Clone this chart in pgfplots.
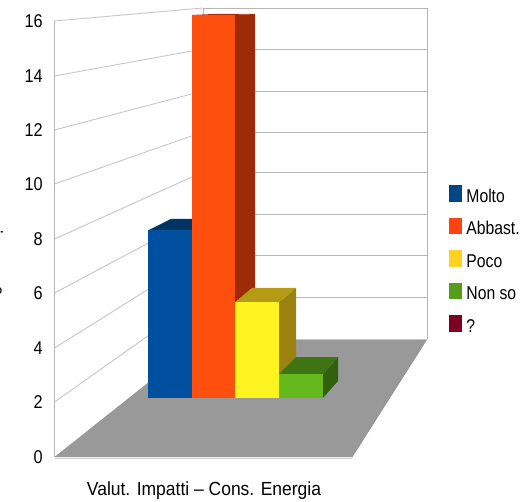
\documentclass[border=0pt]{standalone}
\usepackage{fontspec}
\setmainfont[FakeStretch=0.88]{Liberation Sans}
\newfontfamily\titlefont[FakeStretch=0.92]{Liberation Sans}
\newfontfamily\legendfont[FakeStretch=0.85]{Liberation Sans}
\usepackage{pgfplots}
\pgfplotsset{compat=1.18}
\definecolor{wallgrid}{HTML}{B6B6B6}
\definecolor{leftgrid}{HTML}{C6C6C6}
\definecolor{floorc}{HTML}{999999}
\definecolor{bluef}{HTML}{00509F}
\definecolor{bluet}{HTML}{003462}
\definecolor{orangef}{HTML}{FF4F0E}
\definecolor{oranget}{HTML}{A82C08}
\definecolor{oranges}{HTML}{9E2A08}
\definecolor{yellowf}{HTML}{FFF420}
\definecolor{yellowt}{HTML}{B59A14}
\definecolor{yellows}{HTML}{9C8210}
\definecolor{greenf}{HTML}{66B81F}
\definecolor{greent}{HTML}{3F7412}
\definecolor{greens}{HTML}{31600F}
\definecolor{leg1}{HTML}{004586}
\definecolor{leg2}{HTML}{FF420E}
\definecolor{leg3}{HTML}{FFD320}
\definecolor{leg4}{HTML}{579D1C}
\definecolor{leg5}{HTML}{7E0021}
\begin{document}
\fontsize{18.5}{20}\selectfont
\begin{tikzpicture}
\path[use as bounding box] (0pt,0pt) rectangle (521pt,502pt);
% walls and floor, in picture pixels
\begin{axis}[
  scale only axis, width=521pt, height=502pt,
  at={(0pt,0pt)}, anchor=south west,
  xmin=0, xmax=521, ymin=0, ymax=502, y dir=reverse,
  axis x line=none, axis y line=left,
  y axis line style={draw=none},
  major tick length=0pt,
  ytick={457,402,348,293,239,184,130,76,21},
  yticklabels={0,2,4,6,8,10,12,14,16},
  yticklabel style={anchor=east, xshift=43pt, inner sep=0pt},
  tick label style={font=\fontsize{18.5}{20}\selectfont},
  /pgf/number format/assume math mode=true,
  clip=false,
]
\addplot[fill=floorc, draw=none] coordinates {(54.5,457)(352,457)(427,339)(203,339)} -- cycle;
\addplot[color=gray!85, line width=.8pt] coordinates {(352,457)(427,339)};
\addplot[color=wallgrid!70, line width=1pt] coordinates {(55,458)(352,458)};
\addplot[color=wallgrid, line width=1pt] coordinates {(54.5,21)(54.5,457)};
\addplot[color=wallgrid, line width=1pt] coordinates {(203,8)(203,339)};
\addplot[color=wallgrid, line width=1pt] coordinates {(427,8)(427,339)};
\addplot[color=wallgrid!80, line width=1pt] coordinates {(203,339)(427,339)};
\addplot[color=leftgrid, line width=.9pt] coordinates {(54.5,21)(203,8)};
\addplot[color=leftgrid, line width=.9pt] coordinates {(54.5,76)(203,49)};
\addplot[color=leftgrid, line width=.9pt] coordinates {(54.5,130)(203,91)};
\addplot[color=leftgrid, line width=.9pt] coordinates {(54.5,184)(203,132)};
\addplot[color=leftgrid, line width=.9pt] coordinates {(54.5,239)(203,172)};
\addplot[color=leftgrid, line width=.9pt] coordinates {(54.5,293)(203,214)};
\addplot[color=leftgrid, line width=.9pt] coordinates {(54.5,348)(203,255)};
\addplot[color=leftgrid, line width=.9pt] coordinates {(54.5,402)(203,297)};
\addplot[color=wallgrid, line width=.9pt] coordinates {(203,8)(427,8)};
\addplot[color=wallgrid, line width=.9pt] coordinates {(203,49)(427,49)};
\addplot[color=wallgrid, line width=.9pt] coordinates {(203,91)(427,91)};
\addplot[color=wallgrid, line width=.9pt] coordinates {(203,132)(427,132)};
\addplot[color=wallgrid, line width=.9pt] coordinates {(203,172)(427,172)};
\addplot[color=wallgrid, line width=.9pt] coordinates {(203,214)(427,214)};
\addplot[color=wallgrid, line width=.9pt] coordinates {(203,255)(427,255)};
\addplot[color=wallgrid, line width=.9pt] coordinates {(203,297)(427,297)};
\node[rotate=90, anchor=base, inner sep=0pt, overlay] at (axis cs:1.7,291) {o};
\node[rotate=90, anchor=base, inner sep=0pt, overlay] at (axis cs:3,232.5) {.};
\node[anchor=base, inner sep=0pt] at (axis cs:204,495) {\fontsize{19}{20}\titlefont Valut. Impatti – Cons. Energia};
\end{axis}
% bars: y is the value, x is in picture pixels
\begin{axis}[
  scale only axis, width=521pt, height=502pt,
  at={(0pt,0pt)}, anchor=south west,
  xmin=0, xmax=521, ymin=-4.344, ymax=16.625,
  hide axis, clip=false,
  legend style={at={(axis cs:449,8.9)}, anchor=north west, draw=none, fill=none,
    inner sep=0pt, outer sep=0pt, row sep=10.6pt,
    font=\fontsize{18.5}{18.8}\legendfont, cells={anchor=west}},
  legend cell align=left,
  legend image code/.code={\fill[#1] (0pt,-3.8pt) rectangle (12pt,11.8pt);\path (15pt,0pt);},
]
\addplot[forget plot, fill=bluet, draw=none] coordinates {(148,7)(192,7)(192,7.48)(171,7.48)} -- cycle;
\addplot[forget plot, ybar, bar width=44, bar shift=0pt, fill=bluef, draw=none] coordinates {(170,7)};
\addplot[forget plot, fill=oranges, draw=none] coordinates {(235,16)(255,16.04)(255,4)(235,4)} -- cycle;
\addplot[forget plot, fill=oranget, draw=none] coordinates {(192,16)(235,16)(255,16.04)(214,16.04)} -- cycle;
\addplot[forget plot, ybar, bar width=43, bar shift=0pt, fill=orangef, draw=none] coordinates {(213.5,16)};
\addplot[forget plot, fill=yellows, draw=none] coordinates {(279,4)(296,4.6)(296,0.7)(279,0)} -- cycle;
\addplot[forget plot, fill=yellowt, draw=none] coordinates {(235,4)(279,4)(296,4.6)(252,4.6)} -- cycle;
\addplot[forget plot, ybar, bar width=44, bar shift=0pt, fill=yellowf, draw=none] coordinates {(257,4)};
\addplot[forget plot, fill=greens, draw=none] coordinates {(323,1)(338,1.71)(338,0.71)(323,0)} -- cycle;
\addplot[forget plot, fill=greent, draw=none] coordinates {(279,1)(323,1)(338,1.71)(296,1.71)} -- cycle;
\addplot[forget plot, ybar, bar width=44, bar shift=0pt, fill=greenf, draw=none] coordinates {(301,1)};
\addplot[forget plot, ybar, bar width=44, bar shift=0pt, fill=none, draw=none] coordinates {(345,0)};
\addlegendimage{leg1}\addlegendentry{Molto}
\addlegendimage{leg2}\addlegendentry{Abbast.}
\addlegendimage{leg3}\addlegendentry{Poco}
\addlegendimage{leg4}\addlegendentry{Non so}
\addlegendimage{leg5}\addlegendentry{?}
\end{axis}
\end{tikzpicture}
\end{document}
